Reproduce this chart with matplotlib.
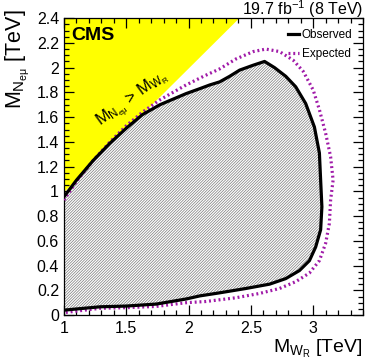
import numpy as np
import matplotlib
matplotlib.use("Agg")
import matplotlib.pyplot as plt
from matplotlib.ticker import MultipleLocator

plt.rcParams['font.family'] = ['Liberation Sans', 'DejaVu Sans']
plt.rcParams['mathtext.fontset'] = 'custom'
plt.rcParams['mathtext.rm'] = 'Liberation Sans'
plt.rcParams['mathtext.it'] = 'Liberation Sans'
plt.rcParams['mathtext.bf'] = 'Liberation Sans:bold'
plt.rcParams['hatch.linewidth'] = 0.5

# observed exclusion contour (M_WR, M_N) in TeV, clockwise from top-left
obs_x = [1.00, 1.10, 1.235, 1.37, 1.50, 1.63, 1.77, 1.98, 2.09, 2.17, 2.25, 2.33, 2.41,
         2.52, 2.61, 2.69, 2.78, 2.86, 2.94, 3.01, 3.05, 3.06, 3.07, 3.06, 3.02, 2.97,
         2.89, 2.78, 2.65, 2.46, 2.25, 2.09, 1.98, 1.74, 1.50, 1.29, 1.00]
obs_y = [0.956, 1.09, 1.25, 1.39, 1.51, 1.62, 1.70, 1.79, 1.83, 1.86, 1.885, 1.93, 1.98,
         2.02, 2.05, 2.00, 1.93, 1.845, 1.71, 1.52, 1.31, 1.09, 0.875, 0.69, 0.55, 0.44,
         0.36, 0.295, 0.25, 0.215, 0.18, 0.155, 0.13, 0.089, 0.073, 0.067, 0.04]

# expected exclusion contour
exp_x = [1.00, 1.10, 1.235, 1.37, 1.50, 1.63, 1.77, 1.98, 2.12, 2.25, 2.38, 2.52, 2.62,
         2.73, 2.84, 2.92, 3.00, 3.05, 3.10, 3.14, 3.16, 3.14, 3.13, 3.10, 3.05, 2.97,
         2.86, 2.73, 2.57, 2.38, 2.14, 1.98, 1.74, 1.50, 1.29, 1.00]
exp_y = [0.93, 1.08, 1.25, 1.40, 1.53, 1.64, 1.74, 1.86, 1.93, 1.99, 2.07, 2.13, 2.15,
         2.13, 2.06, 1.97, 1.82, 1.66, 1.47, 1.28, 1.09, 0.93, 0.74, 0.58, 0.44, 0.34,
         0.27, 0.215, 0.175, 0.14, 0.11, 0.10, 0.07, 0.06, 0.055, 0.02]

# kinematic limit M_N = M_WR
diag = [1.0, 2.4]

xticks = [1, 1.5, 2, 2.5, 3]
xtick_labels = ['1', '1.5', '2', '2.5', '3']
ytick_labels = ['0', '0.2', '0.4', '0.6', '0.8', '1', '1.2', '1.4', '1.6',
                '1.8', '2', '2.2', '2.4']

fig = plt.figure(figsize=(3.74, 3.63), dpi=100)
ax = fig.add_axes([0.171, 0.132, 0.7996, 0.818])

ax.fill_between(diag, diag, 2.4, color='#ffff00', linewidth=0, zorder=1)
ax.fill(obs_x, obs_y, facecolor='white', edgecolor='#7a7a7a', hatch='////////////',
        linewidth=0, zorder=2)
ax.plot(obs_x, obs_y, color='black', lw=2.3, zorder=4, label='Observed')
ax.plot(exp_x, exp_y, color='#a01aa8', lw=2.3, ls=(0, (0.6, 0.9)), zorder=3,
        label='Expected')

ax.set_xlim(1, 3.4)
ax.set_ylim(0, 2.4)
ax.xaxis.set_minor_locator(MultipleLocator(0.1))
ax.yaxis.set_minor_locator(MultipleLocator(0.05))
ax.xaxis.set_ticks(xticks)
ax.set_xticklabels(xtick_labels)
ax.yaxis.set_ticks(np.round(np.arange(0, 2.41, 0.2), 1))
ax.set_yticklabels(ytick_labels)
ax.tick_params(which='both', direction='in', top=True, right=True, labelsize=11.5)
ax.tick_params(which='major', length=7, width=0.9)
ax.tick_params(which='minor', length=3.5, width=0.9)
ax.tick_params(axis='x', pad=4)
for s in ax.spines.values():
    s.set_linewidth(0.9)

ax.text(0.026, 0.97, 'CMS', transform=ax.transAxes, fontsize=14,
        fontweight='bold', ha='left', va='top', zorder=5)
ax.text(1.55, 1.74, r'$M_{N_{e\mu}}$ > $M_{W_R}$', rotation=36, fontsize=12,
        ha='center', va='center', zorder=5)
ax.text(1.0, 1.01, r'19.7 fb$^{-1}$ (8 TeV)', transform=ax.transAxes,
        fontsize=11.5, ha='right', va='baseline')

fig.text(0.968, 0.008, r'$M_{W_R}$ [TeV]', fontsize=14, ha='right', va='bottom')
fig.text(0.010, 0.975, r'$M_{N_{e\mu}}$ [TeV]', fontsize=15.5, rotation=90,
         ha='left', va='top')

ax.legend(loc='upper right', frameon=False, fontsize=8.5, handlelength=1.0,
          handletextpad=0.2, borderaxespad=0.5, labelspacing=0.6)

fig.savefig('out.png', dpi=100)
